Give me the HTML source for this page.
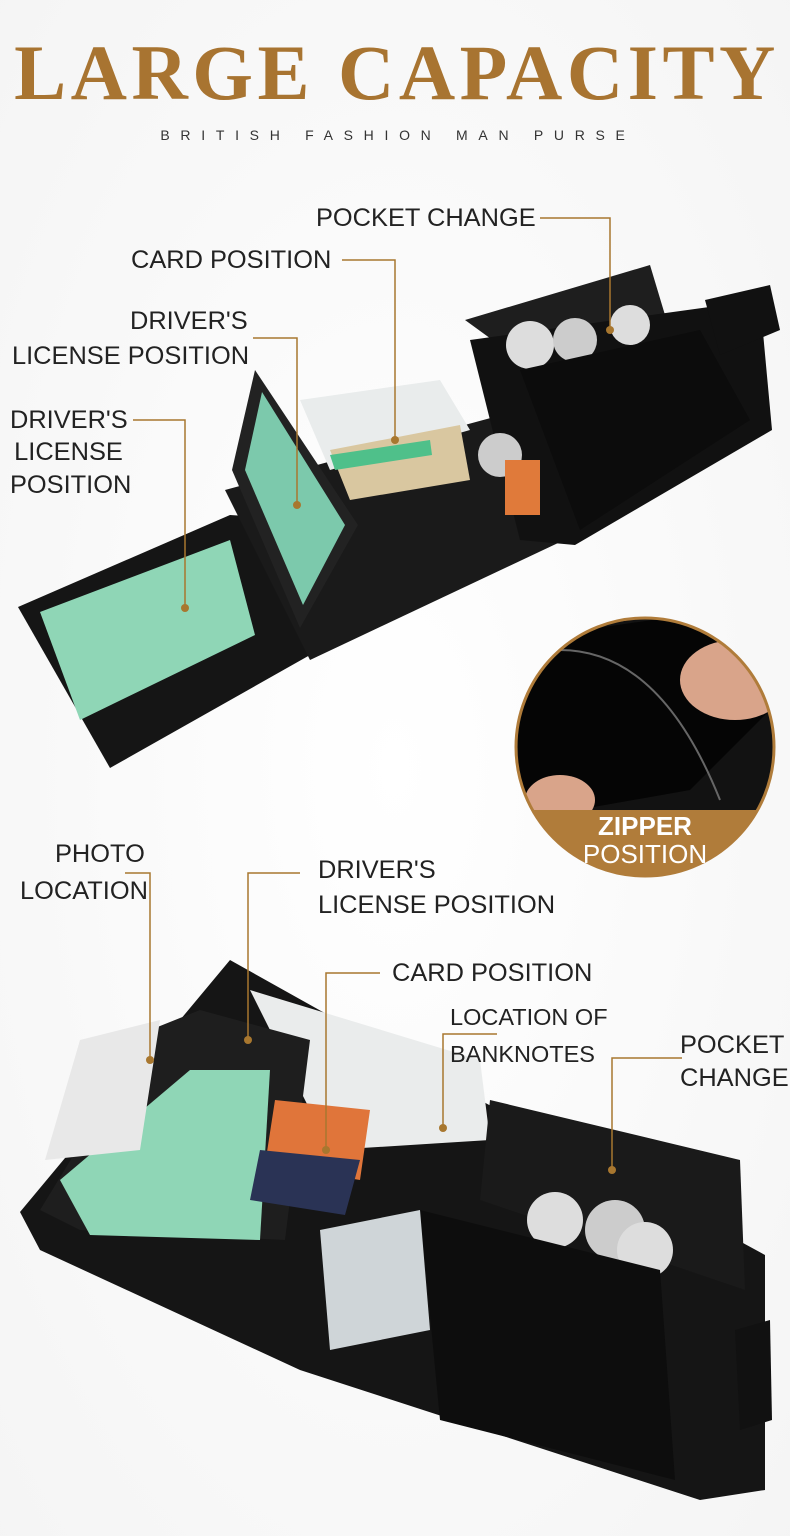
<!DOCTYPE html>
<html><head><meta charset="utf-8"><style>
body{margin:0;width:790px;height:1536px;background:#fff;position:relative;overflow:hidden;font-family:"Liberation Sans",sans-serif}
.t{position:absolute;color:#222;font-size:25.4px;line-height:30px;white-space:nowrap}
svg{position:absolute;left:0;top:0}
</style></head><body>
<svg width="790" height="1536" viewBox="0 0 790 1536">
<defs>
<radialGradient id="bg" cx="50%" cy="50%" r="75%"><stop offset="0" stop-color="#fff"/><stop offset="1" stop-color="#f4f4f4"/></radialGradient>
<clipPath id="cc"><circle cx="645" cy="747" r="128"/></clipPath>
</defs>
<rect width="790" height="1536" fill="url(#bg)"/>
<!-- top wallet -->
<polygon points="18,607 230,515 305,520 310,655 110,768" fill="#151515"/>
<polygon points="40,612 230,540 255,635 80,720" fill="#8fd6b6"/>
<polygon points="225,490 520,410 575,535 310,660" fill="#1a1a1a"/>
<polygon points="300,400 440,380 470,430 330,470" fill="#e9ecec"/>
<polygon points="330,450 460,425 470,480 350,500" fill="#d9c7a0"/>
<polygon points="330,455 430,440 432,455 335,470" fill="#4fc08a"/>
<polygon points="232,470 255,370 358,525 300,628" fill="#222"/>
<polygon points="245,470 262,392 345,525 303,605" fill="#7cc9ac"/>
<polygon points="465,320 650,265 665,315 520,360" fill="#1e1e1e"/>
<polygon points="470,340 760,300 772,430 575,545 520,540" fill="#111"/>
<circle cx="530" cy="345" r="24" fill="#ddd"/><circle cx="575" cy="340" r="22" fill="#ccc"/><circle cx="630" cy="325" r="20" fill="#ddd"/>
<circle cx="500" cy="455" r="22" fill="#ccc"/><rect x="505" y="460" width="35" height="55" fill="#e07a3a"/>
<polygon points="520,370 700,330 750,420 580,530" fill="#0c0c0c"/>
<polygon points="705,300 770,285 780,330 720,355" fill="#111"/>
<!-- circle inset -->
<g clip-path="url(#cc)">
<rect x="510" y="610" width="270" height="270" fill="#121212"/>
<polygon points="515,640 720,610 780,700 690,790 520,820" fill="#050505"/>
<path d="M560,650 Q660,650 720,800" stroke="#666" stroke-width="2" fill="none"/>
<ellipse cx="735" cy="680" rx="55" ry="40" fill="#d9a48a"/>
<ellipse cx="560" cy="800" rx="35" ry="25" fill="#d9a48a"/>
<rect x="510" y="810" width="270" height="70" fill="#b07c3a"/>
</g>
<circle cx="645" cy="747" r="129" fill="none" stroke="#b07c3a" stroke-width="3"/>
<!-- bottom wallet -->
<polygon points="20,1212 230,960 480,1100 765,1255 765,1490 700,1500 300,1370 40,1250" fill="#151515"/>
<polygon points="250,990 480,1060 490,1140 330,1150" fill="#eaecec"/>
<polygon points="40,1210 150,1030 200,1010 310,1040 285,1240 80,1230" fill="#1e1e1e"/>
<polygon points="60,1180 190,1070 270,1070 260,1240 90,1235" fill="#8fd6b6"/>
<polygon points="45,1160 80,1040 160,1020 140,1150" fill="#e8e8e8"/>
<polygon points="275,1100 370,1110 360,1180 265,1165" fill="#e0753a"/>
<polygon points="260,1150 360,1160 345,1215 250,1200" fill="#2a3355"/>
<polygon points="490,1100 740,1160 745,1290 480,1200" fill="#1a1a1a"/>
<circle cx="555" cy="1220" r="28" fill="#ddd"/><circle cx="615" cy="1230" r="30" fill="#ccc"/><circle cx="645" cy="1250" r="28" fill="#ddd"/>
<polygon points="420,1210 660,1270 675,1480 440,1420" fill="#0d0d0d"/>
<polygon points="320,1230 420,1210 430,1330 330,1350" fill="#cfd5d8"/>
<polygon points="735,1330 770,1320 772,1420 740,1430" fill="#111"/>
<!-- leader lines -->
<g stroke="#a8772f" stroke-width="1.5" fill="none">
<polyline points="540,218 610,218 610,330"/>
<polyline points="342,260 395,260 395,440"/>
<polyline points="253,338 297,338 297,505"/>
<polyline points="133,420 185,420 185,608"/>
<polyline points="125,873 150,873 150,1060"/>
<polyline points="300,873 248,873 248,1040"/>
<polyline points="380,973 326,973 326,1150"/>
<polyline points="497,1034 443,1034 443,1128"/>
<polyline points="682,1058 612,1058 612,1170"/>
</g>
<g fill="#a8772f">
<circle cx="610" cy="330" r="4"/><circle cx="395" cy="440" r="4"/><circle cx="297" cy="505" r="4"/><circle cx="185" cy="608" r="4"/>
<circle cx="150" cy="1060" r="4"/><circle cx="248" cy="1040" r="4"/><circle cx="326" cy="1150" r="4"/><circle cx="443" cy="1128" r="4"/><circle cx="612" cy="1170" r="4"/>
</g>
<text x="397" y="99" text-anchor="middle" font-family="Liberation Serif" font-weight="bold" font-size="78" fill="#a87431" letter-spacing="4.5">LARGE  CAPACITY</text>
<text x="398" y="140" text-anchor="middle" font-family="Liberation Sans" font-size="14" fill="#333" letter-spacing="10.7">BRITISH FASHION MAN PURSE</text>
<text x="645" y="835" text-anchor="middle" font-size="26" fill="#fff" font-weight="bold">ZIPPER</text>
<text x="645" y="863" text-anchor="middle" font-size="26" fill="#fff">POSITION</text>
</svg>
<div class="t" style="left:316px;top:203px">POCKET CHANGE</div>
<div class="t" style="left:131px;top:245px">CARD POSITION</div>
<div class="t" style="left:130px;top:306px">DRIVER'S</div>
<div class="t" style="left:12px;top:341px">LICENSE POSITION</div>
<div class="t" style="left:10px;top:405px;text-align:center;width:117px">DRIVER'S<br><span style="line-height:35px">LICENSE</span><br>POSITION</div>
<div class="t" style="left:55px;top:839px">PHOTO</div>
<div class="t" style="left:20px;top:876px">LOCATION</div>
<div class="t" style="left:318px;top:855px">DRIVER'S</div>
<div class="t" style="left:318px;top:890px">LICENSE POSITION</div>
<div class="t" style="left:392px;top:958px">CARD POSITION</div>
<div class="t" style="left:450px;top:1002px;font-size:23.5px">LOCATION OF</div>
<div class="t" style="left:450px;top:1039px;font-size:23.5px">BANKNOTES</div>
<div class="t" style="left:680px;top:1030px">POCKET</div>
<div class="t" style="left:680px;top:1063px">CHANGE</div>
</body></html>
